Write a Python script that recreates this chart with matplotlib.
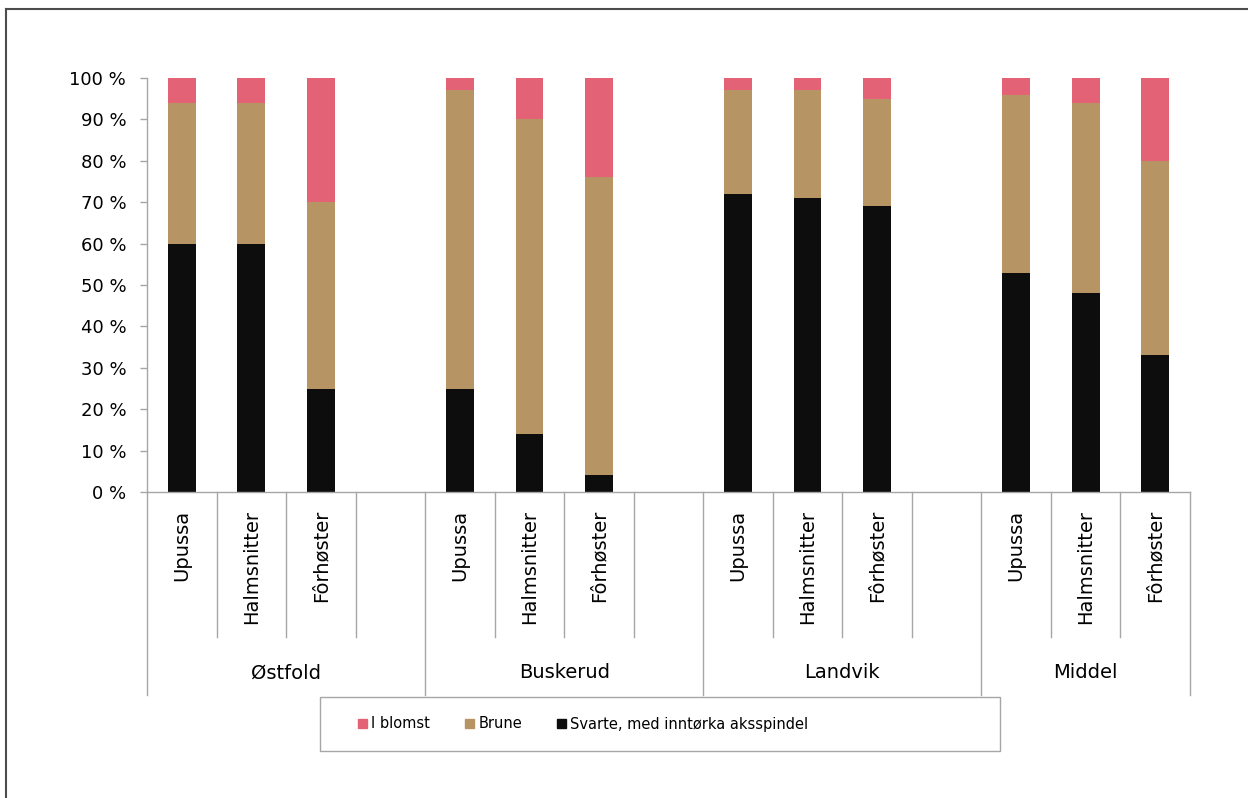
import matplotlib.pyplot as plt
import numpy as np
from matplotlib.patches import Patch, Rectangle
from matplotlib.lines import Line2D

plt.rcParams['font.family'] = ['DejaVu Sans']

# Andel aks (%) per behandling og sted
groups = ['Østfold', 'Buskerud', 'Landvik', 'Middel']
treatments = ['Upussa', 'Halmsnitter', 'Fôrhøster']
svarte = [60, 60, 25, 25, 14, 4, 72, 71, 69, 53, 48, 33]
brune = [34, 34, 45, 72, 76, 72, 25, 26, 26, 43, 46, 47]
blomst = [6, 6, 30, 3, 10, 24, 3, 3, 5, 4, 6, 20]
yticks = [0, 10, 20, 30, 40, 50, 60, 70, 80, 90, 100]

c_svart = '#0d0d0d'
c_brun = '#b69464'
c_rosa = '#e46275'
grey = '#a6a6a6'

svarte = np.array(svarte)
brune = np.array(brune)
blomst = np.array(blomst)

# each site gets 4 slots (3 bars + a gap), the last one only 3
pos = np.array([g * 4 + j + 0.5 for g in range(len(groups)) for j in range(len(treatments))])
n_slots = 4 * (len(groups) - 1) + len(treatments)

fig = plt.figure(figsize=(12.48, 7.98), dpi=100)
ax = fig.add_axes([147 / 1248, 306 / 798, 1043 / 1248, 414 / 798])

ax.bar(pos, svarte, width=0.4, color=c_svart, linewidth=0)
ax.bar(pos, brune, width=0.4, bottom=svarte, color=c_brun, linewidth=0)
ax.bar(pos, blomst, width=0.4, bottom=svarte + brune, color=c_rosa, linewidth=0)

ax.set_xlim(0, n_slots)
ax.set_ylim(0, 100)
ax.set_xticks([])
ax.set_yticks(yticks)
ax.set_yticklabels([f'{v} %' for v in yticks], fontsize=13)
ax.tick_params(axis='y', length=5, width=1, color=grey, pad=10)
for s in ['top', 'right']:
    ax.spines[s].set_visible(False)
for s in ['left', 'bottom']:
    ax.spines[s].set_color(grey)
    ax.spines[s].set_linewidth(1)

# category separators below the axis
tr = ax.get_xaxis_transform()
group_edges = [0, 4, 8, 12, n_slots]
for k in range(n_slots + 1):
    depth = -0.49 if k in group_edges else -0.35
    ax.plot([k, k], [0, depth], transform=tr, clip_on=False, color=grey, lw=1)

for p, t in zip(pos, treatments * len(groups)):
    ax.text(p, -0.043, t, rotation=90, ha='center', va='top', fontsize=14, transform=tr)

for g, name in enumerate(groups):
    mid = (group_edges[g] + group_edges[g + 1]) / 2
    ax.text(mid, -0.437, name, ha='center', va='center', fontsize=14, transform=tr)

# legend with its own box
fig.add_artist(Rectangle((320 / 1248, 47 / 798), 680 / 1248, 54 / 798,
                         transform=fig.transFigure, fill=False, edgecolor=grey, lw=1))
handles = [Patch(color=c_rosa, label='I blomst'),
           Patch(color=c_brun, label='Brune'),
           Patch(color=c_svart, label='Svarte, med inntørka aksspindel')]
fig.legend(handles=handles, loc='center left', bbox_to_anchor=(358 / 1248, 74 / 798),
           ncol=3, frameon=False, fontsize=10.5, handlelength=0.6, handleheight=0.6,
           handletextpad=0.3, columnspacing=2.4, borderaxespad=0, borderpad=0)

# outer chart border
fig.add_artist(Line2D([6 / 1248, 1.01], [1 - 9 / 798, 1 - 9 / 798], transform=fig.transFigure,
                      color='#4d4d4d', lw=1.5))
fig.add_artist(Line2D([6 / 1248, 6 / 1248], [-0.01, 1 - 9 / 798], transform=fig.transFigure,
                      color='#4d4d4d', lw=1.5))

fig.savefig('out.png', dpi=100)
